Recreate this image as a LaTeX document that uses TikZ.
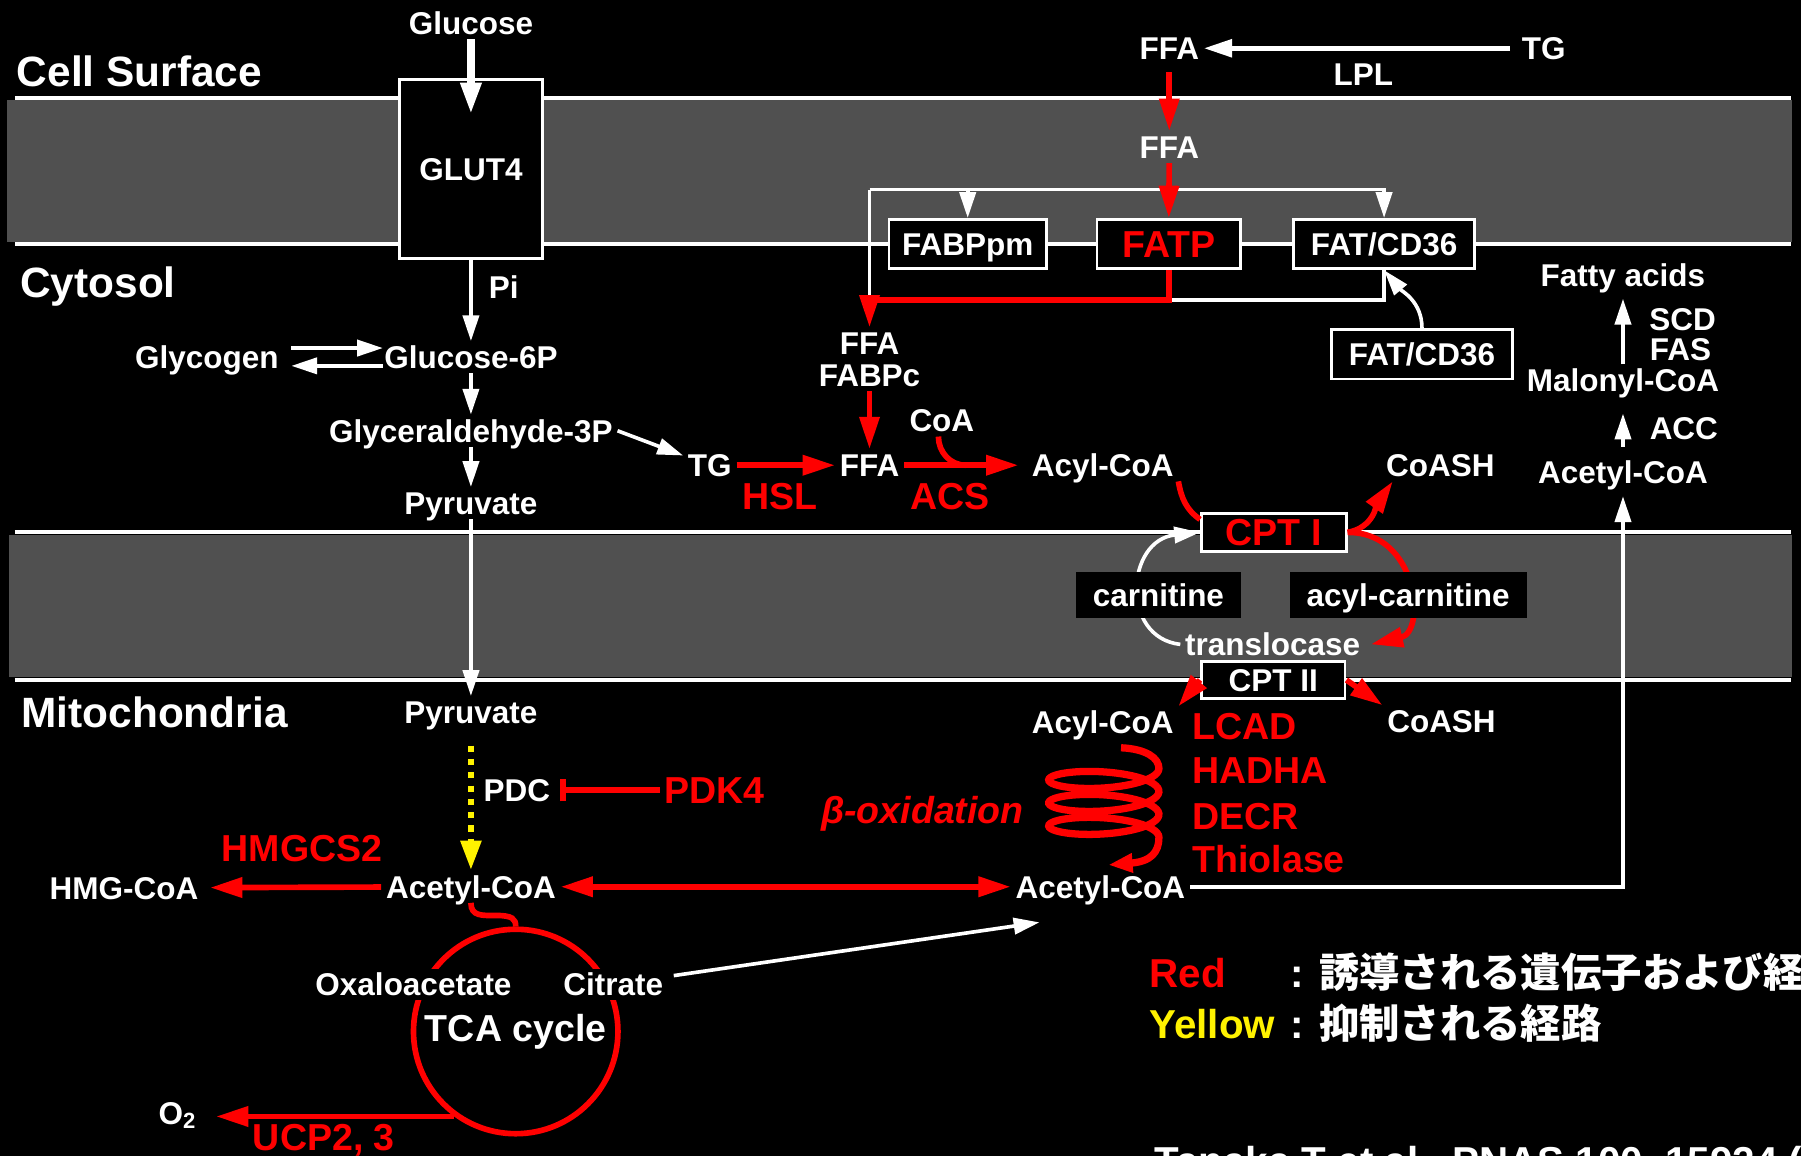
\documentclass[tikz,border=0pt]{standalone}
\usepackage{fontspec}
\setmainfont{Liberation Sans}
\newfontfamily\cjkfont{Noto Sans CJK JP}
\usetikzlibrary{arrows.meta,calc}
\definecolor{membgray}{RGB}{80,80,80}
\tikzset{
  lbl/.style={text=white, font=\fontsize{7.8}{7.8}\selectfont\bfseries,
              inner sep=1pt, text height=5.6pt, text depth=0pt},
  enz/.style={text=red, font=\fontsize{9.3}{9.3}\selectfont\bfseries,
              inner sep=1pt, text height=6.7pt, text depth=0pt},
  ttl/.style={text=white, font=\fontsize{10.5}{10.5}\selectfont\bfseries,
              anchor=west, inner sep=0pt, text height=7.5pt, text depth=0pt},
  lgd/.style={font=\fontsize{10}{10}\selectfont\bfseries, anchor=base west,
              inner sep=0pt},
  mbox/.style={draw=white, fill=black, line width=0.7pt, inner sep=0pt},
  tag/.style={fill=black, inner sep=0pt},
  memb/.style={draw=white, line width=1.05pt},
  wline/.style={draw=white, line width=0.9pt},
  warr/.style={wline, -{Triangle[length=6.4pt,width=4pt]}},
  rline/.style={draw=red, line width=1.4pt},
  rarr/.style={rline, -{Triangle[length=8pt,width=4.8pt]}},
}

\begin{document}
\begin{tikzpicture}
\useasboundingbox (0,0) rectangle (15.68,-10.06);
\fill[black] (0,0) rectangle (15.68,-10.06);
\fill[membgray] (0.06,-0.87) rectangle (15.60,-2.11);
\fill[membgray] (0.08,-4.66) rectangle (15.60,-5.89);
\foreach \y in {-0.85,-2.125,-4.63,-5.92}
  \draw[memb] (0.13,\y) -- (15.59,\y);

\node[ttl] (surf) at (0.14,-0.62) {Cell Surface};
\node[ttl] (cyto) at (0.17,-2.46) {Cytosol};
\node[ttl] (mito) at (0.18,-6.20) {Mitochondria};

\node[lbl] (glucose) at (4.10,-0.20) {Glucose};
\node[lbl, mbox, minimum width=1.25cm, minimum height=1.56cm] (glut) at (4.10,-1.47) {GLUT4};
\coordinate (gin) at (4.10,-1.00);
\draw[white, line width=2pt, -{Triangle[length=8pt,width=4.8pt]}] (glucose) -- (gin);
\node[lbl] (pi) at (4.385,-2.50) {Pi};
\node[lbl] (g6p) at (4.10,-3.11) {Glucose-6P};
\node[lbl] (glycogen) at (1.80,-3.11) {Glycogen};
\node[lbl] (gap) at (4.10,-3.75) {Glyceraldehyde-3P};
\node[lbl] (pyrc) at (4.10,-4.38) {Pyruvate};
\node[lbl] (pyrm) at (4.10,-6.20) {Pyruvate};
\draw[warr] (glut) -- (g6p);
\draw[warr] ([shift={(0.07,0.08)}]glycogen.east) -- ([shift={(0.03,0.08)}]g6p.west);
\draw[warr] ([shift={(0.03,-0.075)}]g6p.west) -- ([shift={(0.07,-0.075)}]glycogen.east);
\draw[warr] (g6p) -- (gap);
\draw[warr] (gap) -- (pyrc);
\draw[warr] (pyrc) -- (pyrm);

\node[lbl] (pdc) at (4.50,-6.88) {PDC};
\node[enz] (pdk) at (6.22,-6.88) {PDK4};
\draw[rline, -{Bar[width=5.5pt]}, shorten >=1.3pt] (pdk) -- (pdc);
\node[lbl] (acm) at (4.10,-7.72) {Acetyl-CoA};
\draw[yellow, line width=1.7pt, dash pattern=on 1.5pt off 1.8pt,
      -{Triangle[length=7.4pt,width=4.8pt]}, shorten <=0.15cm] (pyrm) -- (acm);
\node[lbl] (hmg) at (1.08,-7.73) {HMG-CoA};
\node[enz] (hmgcs) at (2.63,-7.38) {HMGCS2};
\draw[rarr, shorten >=0.06cm] (acm) -- (hmg);
\node[lbl] (acr) at (9.58,-7.72) {Acetyl-CoA};
\draw[rline, {Triangle[length=8pt,width=4.8pt]}-{Triangle[length=8pt,width=4.8pt]}] (acm) -- (acr);

\node[draw=red, line width=1.4pt, circle, minimum size=1.78cm, inner sep=0pt, text=white,
      font=\fontsize{9.3}{9.3}\selectfont\bfseries] (tca) at (4.49,-8.98) {TCA cycle};
\draw[rline] (acm.south) .. controls (4.10,-7.98) and (4.20,-7.97) .. (4.32,-7.97)
  .. controls (4.46,-7.97) and (4.49,-8.00) .. (tca.north);
\node[lbl, fill=black] (oaa) at (3.60,-8.57) {Oxaloacetate};
\node[lbl, fill=black] (cit) at (5.34,-8.57) {Citrate};
\coordinate (citin) at (9.05,-8.03);
\draw[warr, shorten <=0.05cm] (cit) -- (citin);
\node[lbl] (o2) at (1.55,-9.69) {O\textsubscript{2}};
\node[enz] (ucp) at (2.82,-9.90) {UCP2, 3};
\draw[rarr, shorten >=0.12cm] (tca.234) -- (tca.234 -| o2.east);

\node[lbl] (ffa0) at (10.18,-0.42) {FFA};
\node[lbl] (tg0) at (13.44,-0.42) {TG};
\node[lbl] (lpl) at (11.87,-0.65) {LPL};
\draw[white, line width=1.15pt, -{Triangle[length=7pt,width=4.3pt]}, shorten <=0.06cm] (tg0) -- (ffa0);
\node[lbl] (ffa1) at (10.18,-1.28) {FFA};

\node[lbl, mbox, minimum width=1.37cm, minimum height=0.43cm] (fabppm) at (8.425,-2.125) {FABPpm};
\node[enz, mbox, minimum width=1.25cm, minimum height=0.43cm] (fatp) at (10.175,-2.125) {FATP};
\node[lbl, mbox, minimum width=1.58cm, minimum height=0.43cm] (fat1) at (12.05,-2.125) {FAT/CD36};
\node[lbl, mbox, minimum width=1.58cm, minimum height=0.43cm] (fat2) at (12.38,-3.085) {FAT/CD36};
\node[lbl] (ffac) at (7.57,-2.99) {FFA};
\node[lbl] (fabpc) at (7.57,-3.265) {FABPc};

\coordinate (topL) at (7.57,-1.65);
\coordinate (turnL) at (7.57,-2.61);
\draw[wline] (turnL) -- (topL);
\draw[warr] (topL) -| (fat1.north);
\draw[warr] (fabppm.north |- topL) -- (fabppm.north);
\draw[wline] (fat1.south) |- (fatp.south |- turnL);
\draw[warr] (fat2.north) to[out=90, in=-50] (fat1.south);
\draw[rarr, shorten <=0.07cm] (ffa0) -- (ffa1);
\draw[rarr] (ffa1) -- (fatp);
\draw[rarr] (fatp.south) |- (turnL) -- (ffac.north);

\node[lbl] (tgc) at (6.18,-4.05) {TG};
\node[lbl] (ffa2) at (7.57,-4.05) {FFA};
\node[lbl] (acyl1) at (9.60,-4.05) {Acyl-CoA};
\node[lbl] (coa) at (8.20,-3.66) {CoA};
\node[enz] (hsl) at (6.79,-4.32) {HSL};
\node[enz] (acs) at (8.27,-4.32) {ACS};
\draw[warr] (gap.east) -- (tgc.160);
\draw[rarr] (fabpc) -- (ffa2);
\draw[rarr] (tgc) -- (ffa2);
\draw[rarr, shorten >=0.075cm] (ffa2) -- (acyl1);
\draw[rline] ([xshift=-0.03cm]coa.south) to[out=-90, in=180] ($(ffa2.east)!0.5!(acyl1.west)$);

\node[enz, mbox, minimum width=1.26cm, minimum height=0.33cm] (cpt1) at (11.09,-4.635) {CPT I};
\node[lbl] (coash1) at (12.54,-4.05) {CoASH};
\node[lbl] (transl) at (11.08,-5.61) {translocase};
\draw[rline] (acyl1.south east) to[out=-80, in=145] (cpt1.170);
\draw[rarr] (cpt1.east) to[out=10, in=-125] ([xshift=0.1cm]coash1.south west);
\draw[rarr] (cpt1.east) .. controls (12.35,-4.63) and (12.42,-5.50) .. ([xshift=0.05cm]transl.east);
\draw[warr] (transl.west) .. controls (9.75,-5.55) and (9.80,-4.70) .. (cpt1.west);
\node[lbl, tag, minimum width=1.43cm, minimum height=0.40cm] (carn) at (10.085,-5.18) {carnitine};
\node[lbl, tag, minimum width=2.06cm, minimum height=0.40cm] (acarn) at (12.26,-5.18) {acyl-carnitine};
\node[lbl, mbox, minimum width=1.25cm, minimum height=0.32cm] (cpt2) at (11.085,-5.92) {CPT II};
\node[lbl] (coash2) at (12.55,-6.28) {CoASH};
\node[lbl] (acyl2) at (9.60,-6.29) {Acyl-CoA};
\draw[rarr] (cpt2.west) -- (acyl2.north east);
\draw[rarr] (cpt2.east) -- (coash2.north west);

\node[enz, font=\fontsize{9.3}{9.3}\selectfont\bfseries\itshape] (boxid) at (8.03,-7.05) {β-oxidation};
\draw[rline, line width=1.8pt, -{Triangle[length=6pt,width=4.5pt]}]
  (9.76,-6.51) .. controls (9.98,-6.52) and (10.09,-6.60) .. (10.09,-6.69)
  -- plot[domain=0:1080, samples=150, smooth] ({9.61+0.48*cos(\x)}, {-6.69-0.12*sin(\x)-0.20*\x/360})
  .. controls (10.09,-7.42) and (10.02,-7.50) .. (9.65,-7.53);
\node[enz, anchor=west] (lcad) at (10.34,-6.32) {LCAD};
\node[enz, anchor=west] (hadha) at (10.34,-6.70) {HADHA};
\node[enz, anchor=west] (decr) at (10.34,-7.10) {DECR};
\node[enz, anchor=west] (thiol) at (10.34,-7.48) {Thiolase};

\node[lbl] (faty) at (14.13,-2.40) {Fatty acids};
\node[lbl] (scd) at (14.65,-2.78) {SCD};
\node[lbl] (fas) at (14.63,-3.04) {FAS};
\node[lbl] (malo) at (14.13,-3.31) {Malonyl-CoA};
\node[lbl] (acc) at (14.66,-3.73) {ACC};
\node[lbl] (acet) at (14.13,-4.11) {Acetyl-CoA};
\draw[warr, shorten >=0.06cm] (malo) -- (faty);
\draw[warr, shorten <=0.08cm, shorten >=0.15cm] (acet) -- (malo);
\draw[warr, shorten >=0.07cm] (acr.east) -| (acet.south);

\node[lgd, text=red] (lgred) at (10.00,-8.60) {Red};
\node[lgd, text=white] (lgredt) at (11.23,-8.60) {: {\cjkfont 誘導される遺伝子および経路}};
\node[lgd, text=yellow] (lgyel) at (10.00,-9.04) {Yellow};
\node[lgd, text=white] (lgyelt) at (11.23,-9.04) {: {\cjkfont 抑制される経路}};
\node[lgd, text=white] (cite) at (10.045,-10.23) {Tanaka T et al., PNAS 100, 15924 (2003)};
\end{tikzpicture}
\end{document}
